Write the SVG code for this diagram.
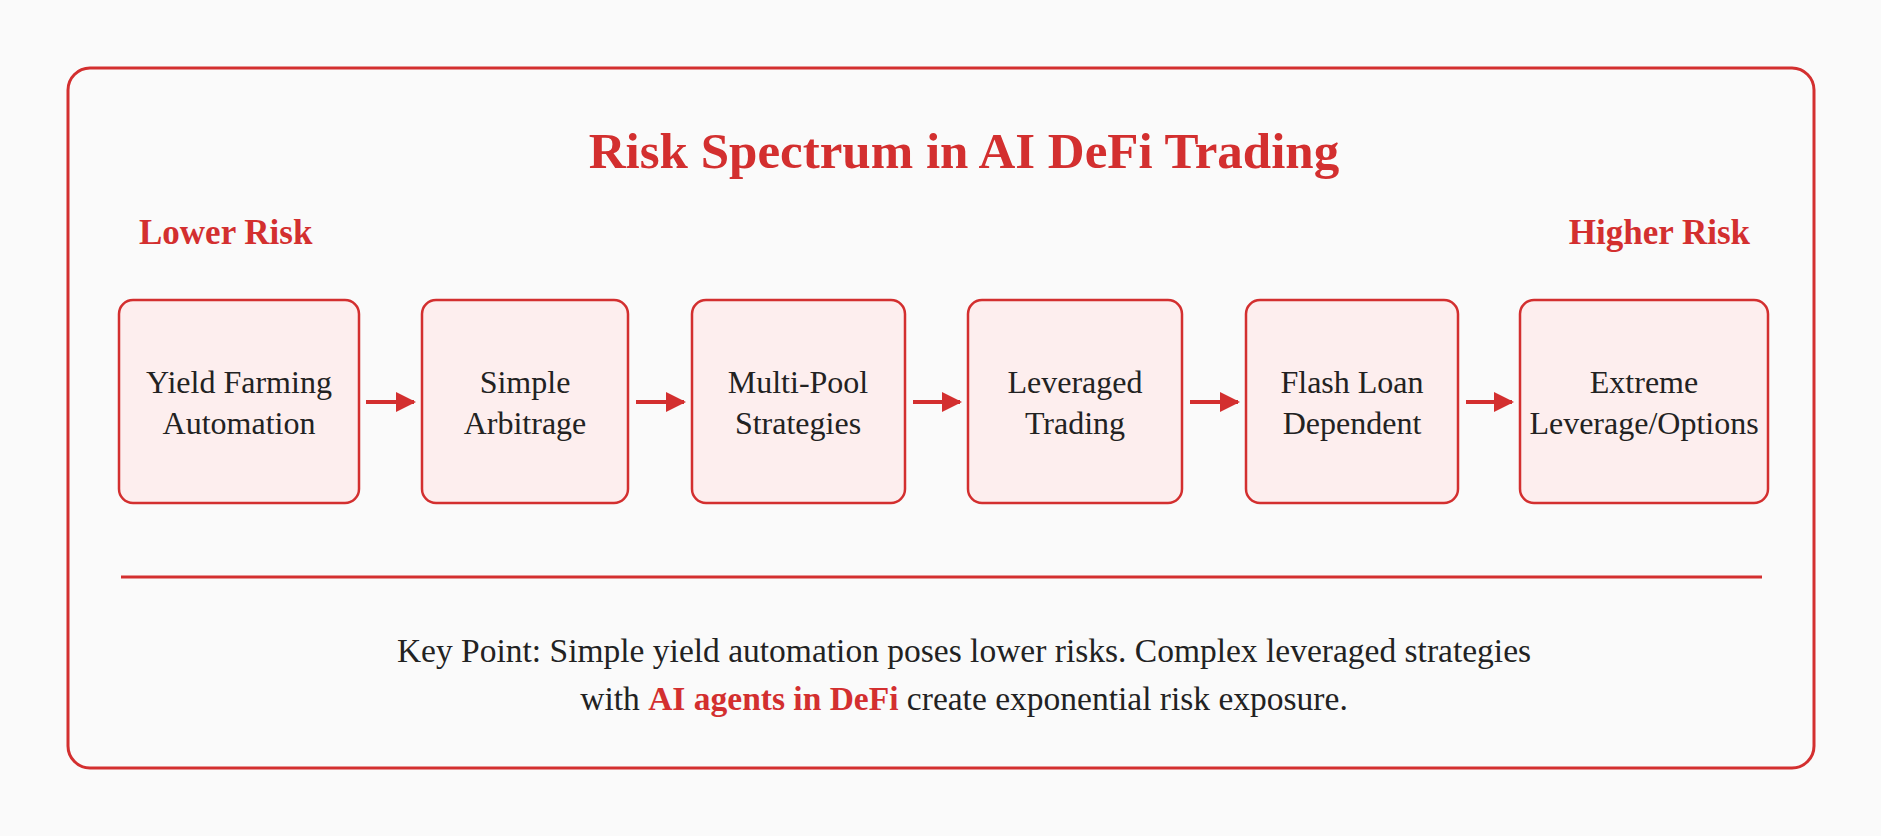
<svg xmlns="http://www.w3.org/2000/svg" width="1881" height="836" viewBox="0 0 1881 836">
<defs>
<style>
.t{font-family:"Liberation Serif","Times New Roman",serif;fill:#222}
.r{fill:#d32f2f;font-weight:bold}
.box{fill:#fdeeee;stroke:#d32f2f;stroke-width:2.5}
.bt{font-size:32px;text-anchor:middle}
.c line{stroke:#d32f2f;stroke-width:4}
</style>
<marker id="ah" viewBox="0 0 10 10" refX="9" refY="5" markerWidth="5" markerHeight="5" orient="auto"><path d="M0,0L10,5L0,10z" fill="#d32f2f"/></marker>
</defs>
<rect width="1881" height="836" fill="#fafafa"/>
<rect x="68" y="68" width="1746" height="700" rx="22" fill="#fafafa" stroke="#d32f2f" stroke-width="3"/>
<text class="t r" x="964" y="168" font-size="51" text-anchor="middle">Risk Spectrum in AI DeFi Trading</text>
<text class="t r" x="139" y="244" font-size="35">Lower Risk</text>
<text class="t r" x="1750" y="244" font-size="35" text-anchor="end">Higher Risk</text>
<g id="n1"><rect class="box" x="119" y="300" width="240" height="203" rx="14"/><text class="t bt" x="239" y="393">Yield Farming</text><text class="t bt" x="239" y="434">Automation</text></g>
<g id="n2"><rect class="box" x="422" y="300" width="206" height="203" rx="14"/><text class="t bt" x="525" y="393">Simple</text><text class="t bt" x="525" y="434">Arbitrage</text></g>
<g id="n3"><rect class="box" x="692" y="300" width="213" height="203" rx="14"/><text class="t bt" x="798" y="393">Multi-Pool</text><text class="t bt" x="798" y="434">Strategies</text></g>
<g id="n4"><rect class="box" x="968" y="300" width="214" height="203" rx="14"/><text class="t bt" x="1075" y="393">Leveraged</text><text class="t bt" x="1075" y="434">Trading</text></g>
<g id="n5"><rect class="box" x="1246" y="300" width="212" height="203" rx="14"/><text class="t bt" x="1352" y="393">Flash Loan</text><text class="t bt" x="1352" y="434">Dependent</text></g>
<g id="n6"><rect class="box" x="1520" y="300" width="248" height="203" rx="14"/><text class="t bt" x="1644" y="393">Extreme</text><text class="t bt" x="1644" y="434">Leverage/Options</text></g>
<g class="c">
<line x1="366" y1="402" x2="414" y2="402" marker-end="url(#ah)"/>
<line x1="636" y1="402" x2="684" y2="402" marker-end="url(#ah)"/>
<line x1="913" y1="402" x2="960" y2="402" marker-end="url(#ah)"/>
<line x1="1190" y1="402" x2="1238" y2="402" marker-end="url(#ah)"/>
<line x1="1466" y1="402" x2="1512" y2="402" marker-end="url(#ah)"/>
</g>
<line x1="121" y1="577" x2="1762" y2="577" stroke="#d32f2f" stroke-width="3"/>
<text class="t" x="964" y="662" font-size="33.5" text-anchor="middle">Key Point: Simple yield automation poses lower risks. Complex leveraged strategies</text>
<text class="t" x="964" y="710" font-size="33.5" text-anchor="middle">with <tspan class="r">AI agents in DeFi</tspan> create exponential risk exposure.</text>
</svg>
